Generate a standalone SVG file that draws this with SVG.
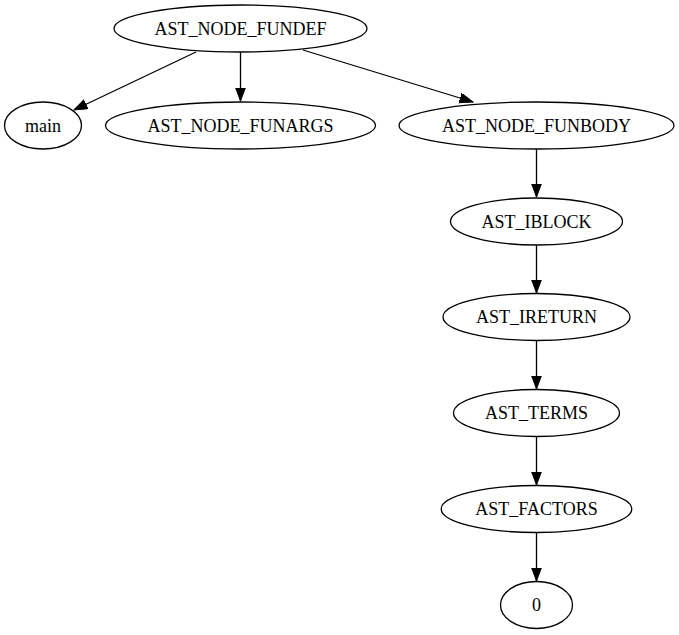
<svg xmlns="http://www.w3.org/2000/svg" width="679" height="635" viewBox="0 0 679 635">
<style>
.n ellipse{fill:none;stroke:#000;stroke-width:1.3}
.n text{font-family:"Liberation Serif","Times New Roman",serif;font-size:18px;text-anchor:middle;fill:#000}
.e line{stroke:#000;stroke-width:1.3;marker-end:url(#ah)}
</style>
<defs>
<marker id="ah" markerUnits="userSpaceOnUse" markerWidth="15" markerHeight="11" refX="13.5" refY="5" orient="auto">
<path d="M0,0 L13.5,5 L0,10 z" fill="#000" stroke="#000" stroke-width="1"/>
</marker>
</defs>
<rect width="679" height="635" fill="#fff"/>
<g id="edges" class="e">
<line x1="196" y1="52" x2="74" y2="110"/>
<line x1="240.5" y1="52" x2="240.5" y2="101"/>
<line x1="303" y1="50" x2="473" y2="102"/>
<line x1="536.5" y1="149" x2="536.5" y2="197"/>
<line x1="536.5" y1="245" x2="536.5" y2="293"/>
<line x1="536.5" y1="341" x2="536.5" y2="389"/>
<line x1="536.5" y1="437" x2="536.5" y2="485"/>
<line x1="536.5" y1="533" x2="536.5" y2="581"/>
</g>
<g id="fundef" class="n"><ellipse cx="240.5" cy="28.5" rx="126.5" ry="23.5"/><text x="240.5" y="34.5">AST_NODE_FUNDEF</text></g>
<g id="main" class="n"><ellipse cx="43" cy="125.5" rx="38.5" ry="23.5"/><text x="43" y="131.5">main</text></g>
<g id="funargs" class="n"><ellipse cx="240.5" cy="125.5" rx="135" ry="23.5"/><text x="240.5" y="131.5">AST_NODE_FUNARGS</text></g>
<g id="funbody" class="n"><ellipse cx="536.5" cy="125.5" rx="137.5" ry="23.5"/><text x="536.5" y="131.5">AST_NODE_FUNBODY</text></g>
<g id="iblock" class="n"><ellipse cx="536.5" cy="221.5" rx="86" ry="23.5"/><text x="536.5" y="227.5">AST_IBLOCK</text></g>
<g id="ireturn" class="n"><ellipse cx="536.5" cy="317" rx="93.5" ry="23.5"/><text x="536.5" y="323">AST_IRETURN</text></g>
<g id="terms" class="n"><ellipse cx="536.5" cy="413" rx="83" ry="23.5"/><text x="536.5" y="419">AST_TERMS</text></g>
<g id="factors" class="n"><ellipse cx="536.5" cy="509" rx="95.3" ry="23.5"/><text x="536.5" y="515">AST_FACTORS</text></g>
<g id="zero" class="n"><ellipse cx="536.5" cy="605" rx="36" ry="23.5"/><text x="536.5" y="611">0</text></g>
</svg>
